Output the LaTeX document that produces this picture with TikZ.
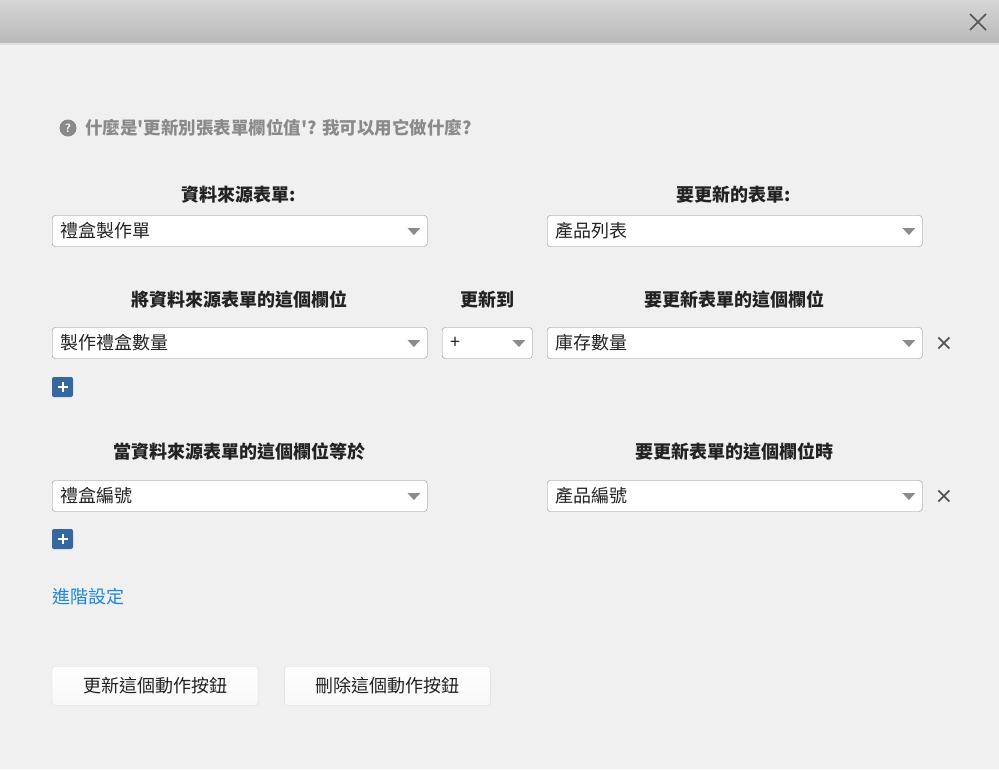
\documentclass[tikz,border=0pt]{standalone}
\usepackage{fontspec}
\newfontfamily\cjkfont{Noto Sans CJK TC}
\usetikzlibrary{positioning}
\definecolor{bgcol}{HTML}{F0F0F0}
\definecolor{barhi}{HTML}{D6D6D6}
\definecolor{barlo}{HTML}{B8B8B8}
\definecolor{boxline}{HTML}{8C8C8C}
\definecolor{helpgray}{HTML}{8A8A8A}
\definecolor{plusblue}{HTML}{35689F}
\definecolor{linkblue}{HTML}{1E86D6}
\definecolor{inkcol}{HTML}{222222}
\definecolor{xgray}{HTML}{555555}

\begin{document}
\begin{tikzpicture}[x=1pt,y=-1pt,
  select/.style={draw=boxline,fill=white,rounded corners=3pt,minimum height=31pt,
    inner xsep=8pt,text width=359pt,align=left,anchor=west,text=inkcol,
    font=\cjkfont\fontsize{18}{21}\selectfont},
  small select/.style={select,text width=74pt},
  head/.style={text=inkcol,font=\cjkfont\bfseries\fontsize{18}{21}\selectfont},
  plusbtn/.style={fill=plusblue,rounded corners=2pt,minimum width=21pt,minimum height=20pt,inner sep=0pt},
  actbtn/.style={draw=black!15,top color=white,bottom color=black!3,rounded corners=3pt,
    minimum width=206pt,minimum height=39pt,text=inkcol,font=\cjkfont\fontsize{18}{21}\selectfont},
  remove/.style={xgray,line width=1.8pt}]

  % page and title bar
  \fill[bgcol] (0,0) rectangle (999,769);
  \shade[top color=barhi,bottom color=barlo] (0,0) rectangle (999,43);
  \fill[black!12] (0,43) rectangle (999,45);
  \node (close) at (978,22) {};
  \draw[xgray,line width=1.5pt] (970,14) -- (986,30) (986,14) -- (970,30);

  % help line
  \node[circle,fill=helpgray,minimum size=17pt,inner sep=0pt,text=white,
    font=\sffamily\bfseries\fontsize{12}{12}\selectfont] (help) at (68,128) {?};
  \node[right=5pt of help,text=helpgray,font=\cjkfont\bfseries\fontsize{17.5}{20}\selectfont] (helptext)
    {什麼是'更新別張表單欄位值'? 我可以用它做什麼?};

  % forms
  \node[head] (srclabel) at (239,195) {資料來源表單:};
  \node[head] (dstlabel) at (734,195) {要更新的表單:};
  \node[select] (srcform) at (52,231) {禮盒製作單};
  \node[select] (dstform) at (547,231) {產品列表};

  % fields to update
  \node[head] (fromlabel) at (239,300) {將資料來源表單的這個欄位};
  \node[head] (oplabel) at (487,300) {更新到};
  \node[head] (tolabel) at (734,300) {要更新表單的這個欄位};
  \node[select] (fromfield) at (52,343) {製作禮盒數量};
  \node[small select] (op) at (442,343) {+};
  \node[select] (tofield) at (547,343) {庫存數量};
  \node[plusbtn] (addfield) at (62.5,387) {};

  % matching fields
  \node[head] (matchlabel) at (239,452) {當資料來源表單的這個欄位等於};
  \node[head] (keylabel) at (734,452) {要更新表單的這個欄位時};
  \node[select] (srckey) at (52,496) {禮盒編號};
  \node[select] (dstkey) at (547,496) {產品編號};
  \node[plusbtn] (addkey) at (62.5,539) {};

  % drop-down arrows
  \foreach \n in {srcform,dstform,fromfield,op,tofield,srckey,dstkey}
    \fill[black!45] (\n.east) ++(-20,-3) -- ++(13,0) -- ++(-6.5,7) -- cycle;

  % remove marks
  \foreach \n in {tofield,dstkey}
    \draw[remove] (\n.east) ++(16,-5.5) -- ++(11,11) ++(0,-11) -- ++(-11,11);

  % plus signs
  \foreach \n in {addfield,addkey}
    \draw[white,line width=2pt] (\n.center) ++(-5,0) -- ++(10,0) (\n.center) ++(0,-5) -- ++(0,10);

  \node[anchor=west,text=linkblue,inner sep=0pt,font=\cjkfont\fontsize{18}{21}\selectfont] (advanced)
    at (52,597) {進階設定};

  % action buttons
  \node[actbtn] (save) at (155,686) {更新這個動作按鈕};
  \node[actbtn,right=26pt of save] (delete) {刪除這個動作按鈕};
\end{tikzpicture}
\end{document}
